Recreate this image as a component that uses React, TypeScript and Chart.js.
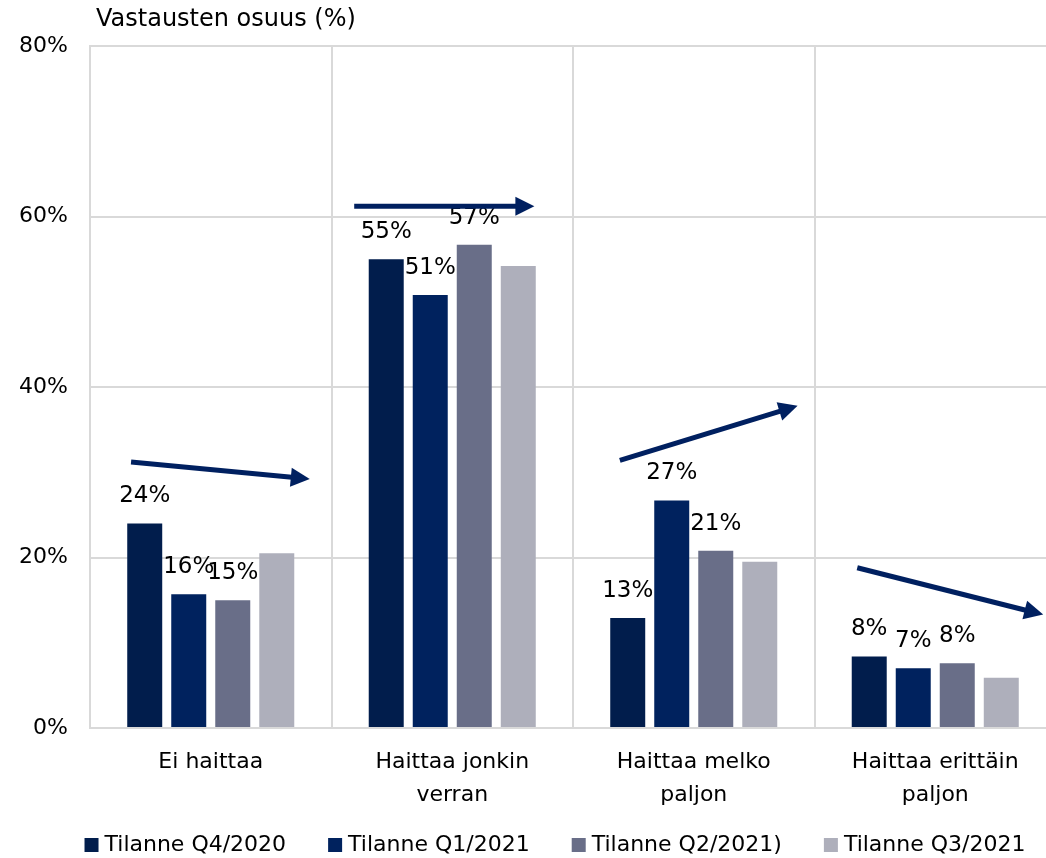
import React, { useEffect, useRef } from "react";
import { Chart, registerables } from "chart.js";

Chart.register(...registerables);

const categories: (string | string[])[] = [
  "Ei haittaa",
  ["Haittaa jonkin", "verran"],
  ["Haittaa melko", "paljon"],
  ["Haittaa erittäin", "paljon"],
];

const seriesLabels = ["Tilanne Q4/2020", "Tilanne Q1/2021", "Tilanne Q2/2021)", "Tilanne Q3/2021"];
const seriesColors = ["#011d4c", "#00225e", "#696e88", "#aeafbb"];

const q4_2020 = [24.0, 55.0, 12.9, 8.4];
const q1_2021 = [15.7, 50.8, 26.7, 7.0];
const q2_2021 = [15.0, 56.7, 20.8, 7.6];
const q3_2021 = [20.5, 54.2, 19.5, 5.9];

const dataLabelsQ4 = ["24%", "55%", "13%", "8%"];
const dataLabelsQ1 = ["16%", "51%", "27%", "7%"];
const dataLabelsQ2 = ["15%", "57%", "21%", "8%"];

const yTicks = [0, 20, 40, 60, 80];
const yTitle = "Vastausten osuus (%)";

// trend arrows: [category index (fractional), value %]
const arrowFrom = [[-0.33, 31.2], [0.594, 61.2], [1.694, 31.4], [2.677, 18.8]];
const arrowTo = [[0.41, 29.2], [1.34, 61.2], [2.43, 37.8], [3.447, 13.3]];
const arrowColor = "#002060";

const FONT = "'DejaVu Sans', sans-serif";

export default function App() {
  const ref = useRef<HTMLCanvasElement | null>(null);

  useEffect(() => {
    if (!ref.current) return;
    const series = [q4_2020, q1_2021, q2_2021, q3_2021];
    const labelSets = [dataLabelsQ4, dataLabelsQ1, dataLabelsQ2];

    const overlay = {
      id: "overlay",
      afterDatasetsDraw(chart: any) {
        const ctx = chart.ctx;
        const xs = chart.scales.x;
        const ys = chart.scales.y;
        ctx.save();
        // data labels
        ctx.font = `23px ${FONT}`;
        ctx.fillStyle = "#000000";
        ctx.textAlign = "center";
        ctx.textBaseline = "middle";
        labelSets.forEach((labels, di) => {
          const meta = chart.getDatasetMeta(di);
          meta.data.forEach((bar: any, i: number) => {
            ctx.fillText(labels[i], bar.x, bar.y - 27);
          });
        });
        // arrows
        ctx.strokeStyle = arrowColor;
        ctx.fillStyle = arrowColor;
        ctx.lineWidth = 5;
        arrowFrom.forEach((f, i) => {
          const t = arrowTo[i];
          const x1 = xs.getPixelForValue(f[0]);
          const y1 = ys.getPixelForValue(f[1]);
          const x2 = xs.getPixelForValue(t[0]);
          const y2 = ys.getPixelForValue(t[1]);
          const ang = Math.atan2(y2 - y1, x2 - x1);
          const hl = 19;
          const hw = 9.5;
          const bx = x2 - hl * Math.cos(ang);
          const by = y2 - hl * Math.sin(ang);
          ctx.beginPath();
          ctx.moveTo(x1, y1);
          ctx.lineTo(bx + Math.cos(ang), by + Math.sin(ang));
          ctx.stroke();
          ctx.beginPath();
          ctx.moveTo(x2, y2);
          ctx.lineTo(bx + hw * Math.sin(ang), by - hw * Math.cos(ang));
          ctx.lineTo(bx - hw * Math.sin(ang), by + hw * Math.cos(ang));
          ctx.closePath();
          ctx.fill();
        });
        // axis title
        ctx.font = `24px ${FONT}`;
        ctx.fillStyle = "#000000";
        ctx.textAlign = "left";
        ctx.fillText(yTitle, chart.chartArea.left + 6, chart.chartArea.top - 26);
        ctx.restore();
      },
      afterDraw(chart: any) {
        // legend row under the category labels
        const ctx = chart.ctx;
        const ds = chart.data.datasets;
        ctx.save();
        ctx.font = `22px ${FONT}`;
        ctx.textBaseline = "middle";
        ctx.textAlign = "left";
        const box = 14;
        const boxGap = 6;
        const itemGap = 42;
        const widths = ds.map((d: any) => box + boxGap + ctx.measureText(d.label).width);
        const total = widths.reduce((a: number, b: number) => a + b, 0) + itemGap * (ds.length - 1);
        const centerX = (chart.chartArea.left + chart.chartArea.right) / 2 - 18;
        const cy = chart.chartArea.bottom + 117;
        let x = centerX - total / 2;
        ds.forEach((d: any, i: number) => {
          ctx.fillStyle = d.backgroundColor;
          ctx.fillRect(x, cy - box / 2, box, box);
          ctx.fillStyle = "#000000";
          ctx.fillText(d.label, x + box + boxGap, cy);
          x += widths[i] + itemGap;
        });
        ctx.restore();
      },
    };

    const chart = new Chart(ref.current, {
      type: "bar",
      data: {
        labels: categories,
        datasets: series.map((d, i) => ({
          label: seriesLabels[i],
          data: d,
          backgroundColor: seriesColors[i],
          borderWidth: 0,
          categoryPercentage: 0.729,
          barPercentage: 0.795,
        })),
      },
      options: {
        responsive: false,
        animation: false,
        layout: { padding: { left: 0, right: 0, top: 46, bottom: 0 } },
        plugins: {
          legend: { display: false },
          tooltip: { enabled: false },
          title: { display: false },
        },
        scales: {
          x: {
            grid: { color: "#d9d9d9", lineWidth: 2, drawTicks: false, offset: true },
            border: { color: "#d9d9d9", width: 2 },
            ticks: {
              color: "#000000",
              font: { family: FONT, size: 22, lineHeight: 1.5 },
              padding: 18,
              maxRotation: 0,
              autoSkip: false,
            },
            afterFit(scale: any) {
              scale.height = 130;
            },
          },
          y: {
            min: 0,
            max: 80,
            afterBuildTicks(scale: any) {
              scale.ticks = yTicks.map((v) => ({ value: v }));
            },
            grid: { color: "#d9d9d9", lineWidth: 2, drawTicks: false },
            border: { color: "#d9d9d9", width: 2 },
            ticks: {
              color: "#000000",
              font: { family: FONT, size: 22 },
              padding: 22,
              callback: (v: any) => `${v}%`,
            },
            afterFit(scale: any) {
              scale.width = 90;
            },
          },
        },
      },
      plugins: [overlay],
    });
    return () => chart.destroy();
  }, []);

  return (
    <div style={{ position: "absolute", left: 0, top: 0, width: 1046, height: 858, overflow: "hidden", background: "#ffffff" }}>
      <canvas ref={ref} width={1056} height={858} style={{ width: 1056, height: 858, display: "block" }} />
    </div>
  );
}
